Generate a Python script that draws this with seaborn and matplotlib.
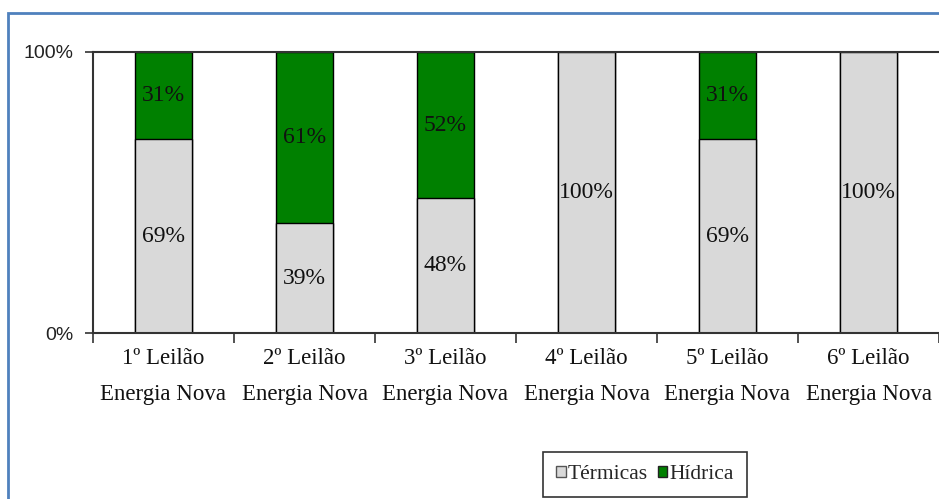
import numpy as np
import pandas as pd
import seaborn as sns
import matplotlib.pyplot as plt
from matplotlib.patches import Rectangle, Patch

categorias = ["1º Leilão\nEnergia Nova", "2º Leilão\nEnergia Nova", "3º Leilão\nEnergia Nova",
              "4º Leilão\nEnergia Nova", "5º Leilão\nEnergia Nova", "6º Leilão\nEnergia Nova"]
termicas = [69, 39, 48, 100, 69, 100]
hidrica = [31, 61, 52, 0, 31, 0]
yticks = [0, 100]
ytick_labels = ["0%", "100%"]

cor_termicas = "#d9d9d9"
cor_hidrica = "#008000"

df = pd.DataFrame({"cat": categorias, "termicas": termicas, "hidrica": hidrica})
df["total"] = df["termicas"] + df["hidrica"]

sns.set_style("white")
plt.rcParams["font.family"] = ["Liberation Serif", "DejaVu Serif"]

fig = plt.figure(figsize=(9.39, 4.99), dpi=100)
ax = fig.add_axes([93 / 939, 1 - 333 / 499, 1 - 93 / 939, (333 - 52) / 499])

# barras empilhadas: total (hídrica por cima) e depois térmicas
sns.barplot(data=df, x="cat", y="total", color=cor_hidrica, width=0.4,
            edgecolor="black", linewidth=1, saturation=1, ax=ax)
sns.barplot(data=df, x="cat", y="termicas", color=cor_termicas, width=0.4,
            edgecolor="black", linewidth=1, saturation=1, ax=ax)

for i, (t, h) in enumerate(zip(termicas, hidrica)):
    ax.text(i, t / 2, f"{t}%", ha="center", va="center", fontsize=17, color="#111")
    if h > 0:
        ax.text(i, t + h / 2, f"{h}%", ha="center", va="center", fontsize=17, color="#111")

ax.set_xlim(-0.5, 5.5)
ax.set_ylim(0, 100)
ax.set_xlabel("")
ax.set_ylabel("")

ax.set_xticks(np.arange(-0.5, 6, 1))
ax.set_xticklabels([])
ax.set_xticks(range(len(categorias)), minor=True)
ax.set_xticklabels(categorias, minor=True, fontsize=16.5, linespacing=1.95, color="#111")
ax.tick_params(axis="x", which="major", direction="out", length=7, width=1.2, bottom=True, color="#333")
ax.tick_params(axis="x", which="minor", length=0, pad=11)

ax.set_yticks(yticks)
ax.set_yticklabels(ytick_labels, family=["Liberation Sans", "DejaVu Sans"], fontsize=14, color="#222")
ax.tick_params(axis="y", direction="out", length=6, width=1.2, left=True, color="#333", pad=8)

for s in ["left", "bottom", "top"]:
    ax.spines[s].set_visible(True)
    ax.spines[s].set_color("#333")
    ax.spines[s].set_linewidth(1.5)
ax.spines["right"].set_visible(False)

# legenda
handles = [Patch(facecolor=cor_termicas, edgecolor="#555", label="Térmicas"),
           Patch(facecolor=cor_hidrica, edgecolor="#222", label="Hídrica")]
leg = fig.legend(handles=handles, loc="lower left", bbox_to_anchor=(543 / 939, 2 / 499),
                 ncol=2, fontsize=15.5, frameon=True, fancybox=False, handlelength=0.45,
                 handleheight=0.45, handletextpad=0.1, columnspacing=0.45, borderpad=0.6,
                 borderaxespad=0)
leg.get_frame().set_edgecolor("black")
leg.get_frame().set_linewidth(1.2)

# moldura azul
fig.patches.append(Rectangle((8 / 939, -0.1), 1.2, 1 - 13 / 499 + 0.1, transform=fig.transFigure,
                             fill=False, edgecolor="#4f81bd", linewidth=2, zorder=-1))

fig.savefig("out.png", dpi=100)
